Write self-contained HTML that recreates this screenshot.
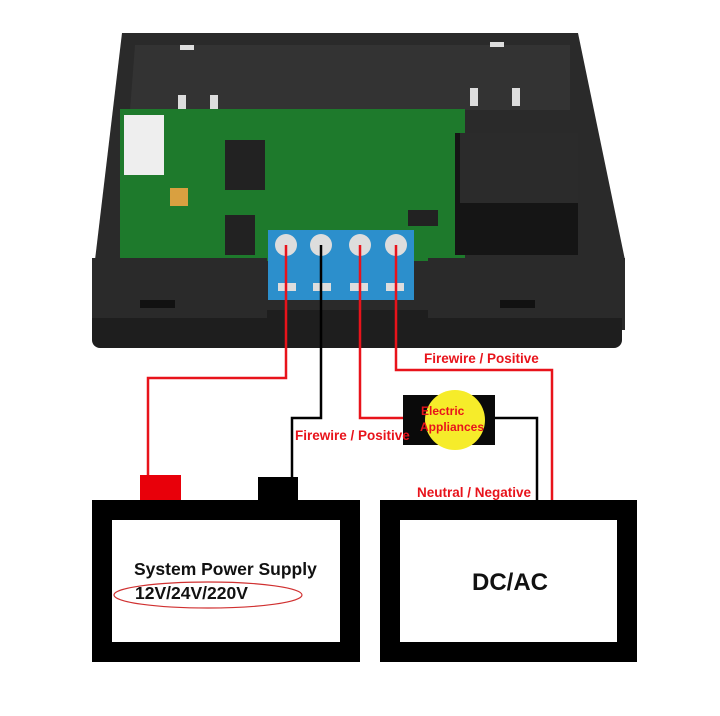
<!DOCTYPE html>
<html><head><meta charset="utf-8"><style>
html,body{margin:0;padding:0;background:#fff;}
svg{display:block}
text{font-family:"Liberation Sans",sans-serif;font-weight:bold}
</style></head><body>
<svg width="720" height="716" viewBox="0 0 720 716" xmlns="http://www.w3.org/2000/svg">
<polygon points="122,33 578,33 625,260 625,330 95,330 95,260" fill="#2a2a2a"/>
<rect x="92" y="310" width="530" height="38" rx="8" fill="#1e1e1e"/>
<polygon points="135,45 570,45 570,110 130,110" fill="#333"/>
<rect x="180" y="45" width="14" height="5" fill="#ddd"/>
<rect x="490" y="42" width="14" height="5" fill="#ddd"/>
<rect x="178" y="95" width="8" height="14" fill="#ddd"/>
<rect x="210" y="95" width="8" height="14" fill="#ddd"/>
<rect x="470" y="88" width="8" height="18" fill="#ddd"/>
<rect x="512" y="88" width="8" height="18" fill="#ddd"/>
<rect x="120" y="109" width="345" height="152" fill="#1e7a2c"/>
<rect x="124" y="115" width="40" height="60" fill="#eee"/>
<rect x="225" y="140" width="40" height="50" fill="#222"/>
<rect x="170" y="188" width="18" height="18" fill="#d9a040"/>
<rect x="225" y="215" width="30" height="40" fill="#222"/>
<rect x="408" y="210" width="30" height="16" fill="#222"/>
<rect x="455" y="133" width="123" height="122" fill="#151515"/>
<rect x="460" y="133" width="118" height="70" fill="#2b2b2b"/>
<rect x="92" y="258" width="175" height="60" fill="#2a2a2a"/>
<rect x="428" y="258" width="197" height="60" fill="#2a2a2a"/>
<rect x="140" y="300" width="35" height="8" fill="#111"/>
<rect x="500" y="300" width="35" height="8" fill="#111"/>
<rect x="268" y="230" width="146" height="70" fill="#2c8fcc"/>
<g fill="#ddd"><circle cx="286" cy="245" r="11"/><circle cx="321" cy="245" r="11"/><circle cx="360" cy="245" r="11"/><circle cx="396" cy="245" r="11"/>
<rect x="278" y="283" width="18" height="8"/><rect x="313" y="283" width="18" height="8"/><rect x="350" y="283" width="18" height="8"/><rect x="386" y="283" width="18" height="8"/></g>
<g fill="none" stroke-width="2.5">
<polyline points="286,245 286,378 148,378 148,475" stroke="#e8131b"/>
<polyline points="321,245 321,418 292,418 292,478" stroke="#000"/>
<polyline points="360,245 360,418 405,418" stroke="#e8131b"/>
<polyline points="396,245 396,370 552,370 552,500" stroke="#e8131b"/>
<polyline points="494,418 537,418 537,500" stroke="#000"/>
</g>
<rect x="403" y="395" width="92" height="50" fill="#0a0a0a"/>
<circle cx="455" cy="420" r="30" fill="#f6ec2a"/>
<text x="421" y="415" font-size="12" fill="#e8131b">Electric</text>
<text x="420" y="431" font-size="12" fill="#e8131b">Appliances</text>
<rect x="140" y="475" width="41" height="26" fill="#e8000a"/>
<rect x="258" y="477" width="40" height="26" fill="#000"/>
<rect x="102" y="510" width="248" height="142" fill="#fff" stroke="#000" stroke-width="20"/>
<rect x="390" y="510" width="237" height="142" fill="#fff" stroke="#000" stroke-width="20"/>
<text x="134" y="575" font-size="17.5" fill="#111">System Power Supply</text>
<text x="135" y="599" font-size="17.5" fill="#111">12V/24V/220V</text>
<ellipse cx="208" cy="595" rx="94" ry="13" fill="none" stroke="#d03030" stroke-width="1.2"/>
<text x="510" y="590" font-size="24" fill="#111" text-anchor="middle">DC/AC</text>
<text x="424" y="363" font-size="13.5" fill="#e8131b">Firewire / Positive</text>
<text x="295" y="440" font-size="13.5" fill="#e8131b">Firewire / Positive</text>
<text x="417" y="497" font-size="13.5" fill="#e8131b">Neutral / Negative</text>
</svg>
</body></html>
